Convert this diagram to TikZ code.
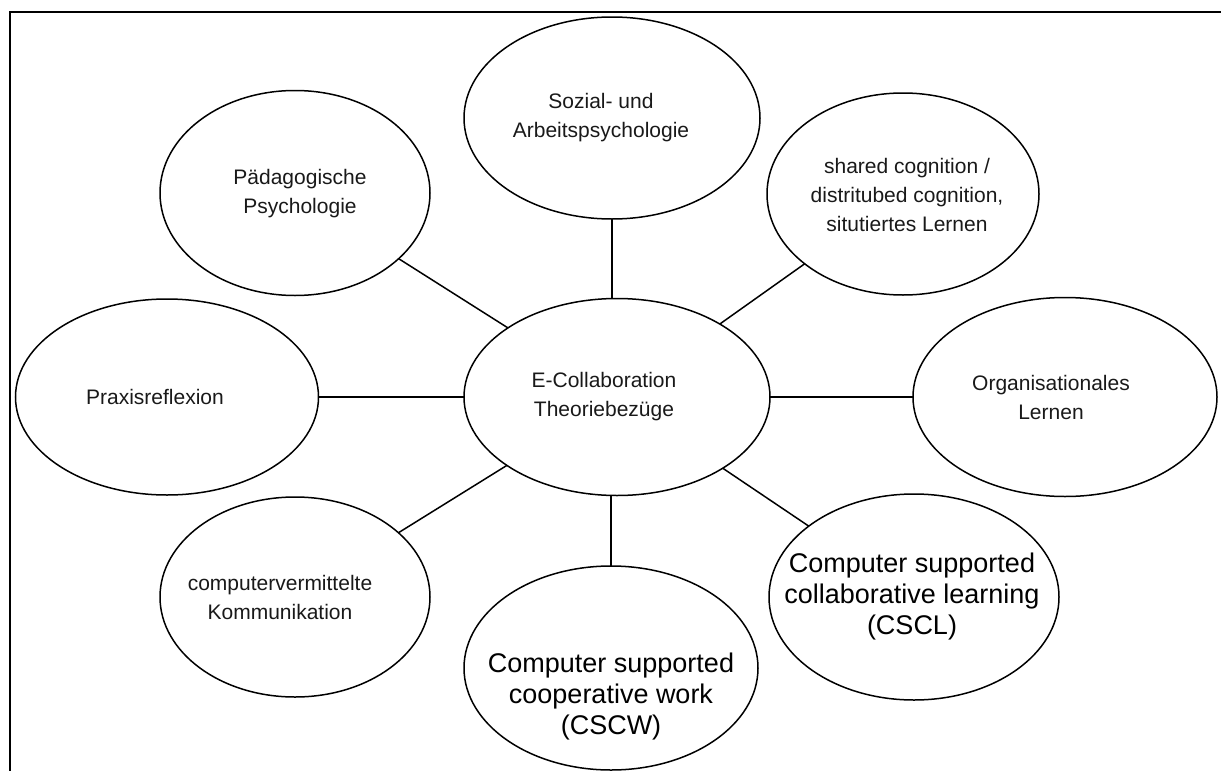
\documentclass[tikz,border=0pt]{standalone}
\usepackage{fontspec}
\setmainfont{Liberation Sans}
\usetikzlibrary{shapes.geometric,calc}
\begin{document}
\begin{tikzpicture}[x=1pt,y=-1pt,
  bubble/.style={draw,ellipse,line width=1.5pt,inner sep=0pt,outer sep=0pt},
  link/.style={line width=1.5pt},
  small/.style={align=center,inner sep=0pt,text=black!90,
    font=\fontsize{21pt}{29pt}\selectfont},
  large/.style={align=center,inner sep=0pt,
    font=\fontsize{27pt}{31pt}\selectfont}]
\useasboundingbox (0,0) rectangle (1221,771);

% frame (open at the right and at the bottom)
\draw[line width=2.6pt] (10,771) -- (10,12) -- (1221,12);

% ellipses
\node[bubble,minimum width=296pt,minimum height=202pt] (soz)    at (612,118) {};
\node[bubble,minimum width=270pt,minimum height=205pt] (paed)   at (295,193) {};
\node[bubble,minimum width=272pt,minimum height=202pt] (shared) at (903,194) {};
\node[bubble,minimum width=303pt,minimum height=196pt] (praxis) at (167,397) {};
\node[bubble,minimum width=306pt,minimum height=197pt] (ctr)    at (617,397) {};
\node[bubble,minimum width=304pt,minimum height=199pt] (org)    at (1065,397) {};
\node[bubble,minimum width=270pt,minimum height=200pt] (cvk)    at (295,597) {};
\node[bubble,minimum width=294pt,minimum height=204pt] (cscw)   at (611,668) {};
\node[bubble,minimum width=290pt,minimum height=206pt] (cscl)   at (914,597) {};

% texts
\node[small] (soz-t)    at (601,118) {Sozial- und\\Arbeitspsychologie};
\node[small] (paed-t)   at (300,194) {Pädagogische\\Psychologie};
\node[small] (shared-t) at (907,195) {shared cognition /\\distritubed cognition,\\situtiertes Lernen};
\node[small] (praxis-t) at (155,397) {Praxisreflexion};
\node[small] (ctr-t)    at (604,397) {E-Collaboration\\Theoriebezüge};
\node[small] (org-t)    at (1051,397) {Organisationales\\Lernen};
\node[small] (cvk-t)    at (280,597) {computervermittelte\\Kommunikation};
\node[large] (cscw-t)   at (611,697) {Computer supported\\cooperative work\\(CSCW)};
\node[large] (cscl-t)   at (912,597) {Computer supported\\collaborative learning\\(CSCL)};

% connectors
\draw[link] (ctr.north -| soz.south) -- (soz.south);
\draw[link] (ctr) -- (paed);
\draw[link] (ctr) -- (shared);
\draw[link] (ctr) -- (praxis);
\draw[link] (ctr) -- (org);
\draw[link] (ctr) -- (cvk);
\draw[link] (ctr.south -| cscw.north) -- (cscw.north);
\draw[link] (ctr) -- (cscl);
\end{tikzpicture}
\end{document}
